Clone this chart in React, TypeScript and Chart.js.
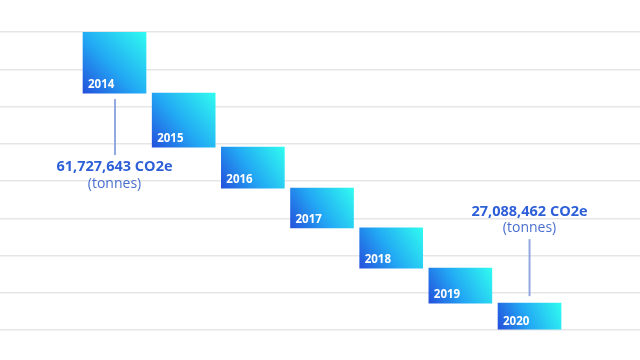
import React, { useEffect, useRef } from "react";
import { Chart, registerables } from "chart.js";

Chart.register(...registerables);

// Categories (years)
const years = ["2014", "2015", "2016", "2017", "2018", "2019", "2020"];
// Floating bar levels in grid units (0 = bottom grid line, 8 = top grid line)
const barTop = [8.0, 6.36, 4.91, 3.81, 2.74, 1.66, 0.72];
const barBottom = [6.36, 4.91, 3.81, 2.74, 1.66, 0.72, 0.0];
// Annotation texts
const startValueLabel = "61,727,643 CO2e";
const endValueLabel = "27,088,462 CO2e";
const unitLabel = "(tonnes)";
// Y grid ticks
const yMin = 0;
const yMax = 8;
const yStep = 1;

export default function App() {
  const ref = useRef<HTMLCanvasElement | null>(null);

  useEffect(() => {
    document.body.style.margin = "0";
    const canvas = ref.current;
    if (!canvas) return;

    const data = years.map((_, i) => ({ x: i, y: [barBottom[i], barTop[i]] }));

    const gradientPlugin = {
      id: "barGradient",
      beforeDatasetsDraw(chart: any) {
        const meta = chart.getDatasetMeta(0);
        const c = chart.ctx;
        meta.data.forEach((el: any) => {
          const half = el.width / 2;
          const top = Math.min(el.y, el.base);
          const bot = Math.max(el.y, el.base);
          if (![el.x, half, top, bot].every((v) => Number.isFinite(v))) return;
          const g = c.createLinearGradient(el.x - half, bot, el.x + half, top);
          g.addColorStop(0, "#2450dc");
          g.addColorStop(0.45, "#22a8f4");
          g.addColorStop(1, "#30fbf0");
          el.options.backgroundColor = g;
        });
      },
    };

    const annotPlugin = {
      id: "annot",
      afterDatasetsDraw(chart: any) {
        const c = chart.ctx;
        const xs = chart.scales.x;
        const ys = chart.scales.y;
        c.save();
        // year labels
        c.fillStyle = "#ffffff";
        c.font = 'bold 11.5px "Open Sans"';
        c.textAlign = "left";
        c.textBaseline = "alphabetic";
        years.forEach((yr, i) => {
          const cx = xs.getPixelForValue(i);
          const bot = ys.getPixelForValue(barBottom[i]);
          c.fillText(yr, cx - 31.5 + 5, bot - 5);
        });

        // first annotation (below 2014)
        const x0 = xs.getPixelForValue(0);
        const b0 = ys.getPixelForValue(barBottom[0]);
        c.strokeStyle = "#94a8e0";
        c.lineWidth = 2;
        c.beginPath();
        c.moveTo(x0 + 0.5, b0 + 6);
        c.lineTo(x0 + 0.5, b0 + 62);
        c.stroke();
        c.textAlign = "center";
        c.textBaseline = "middle";
        c.fillStyle = "#2d5fd8";
        c.font = 'bold 14.5px "Open Sans"';
        c.fillText(startValueLabel, x0, b0 + 74);
        c.fillStyle = "#4a6fcf";
        c.font = '14px "Open Sans"';
        c.fillText(unitLabel, x0, b0 + 91);

        // last annotation (above 2020)
        const n = years.length - 1;
        const xn = xs.getPixelForValue(n);
        const tn = ys.getPixelForValue(barTop[n]);
        c.beginPath();
        c.moveTo(xn, tn - 7);
        c.lineTo(xn, tn - 64);
        c.stroke();
        c.fillStyle = "#2d5fd8";
        c.font = 'bold 14.5px "Open Sans"';
        c.fillText(endValueLabel, xn, tn - 91.5);
        c.fillStyle = "#4a6fcf";
        c.font = '14px "Open Sans"';
        c.fillText(unitLabel, xn, tn - 75);
        c.restore();
      },
    };

    const chart = new Chart(canvas, {
      type: "bar",
      data: {
        datasets: [
          {
            data: data as any,
            backgroundColor: (() => "#22a8f4") as any,
            borderWidth: 0,
            barThickness: 63,
          },
        ],
      },
      options: {
        animation: false,
        responsive: true,
        maintainAspectRatio: false,
        layout: { padding: { top: 32, bottom: 30, left: 0, right: 0 } },
        plugins: { legend: { display: false }, tooltip: { enabled: false } },
        scales: {
          x: {
            type: "linear",
            min: -1.6554,
            max: 7.597,
            offset: false,
            bounds: "ticks",
            display: false,
          },
          y: {
            min: yMin,
            max: yMax,
            ticks: { display: false, stepSize: yStep },
            border: { display: false },
            grid: { color: "#e6e6e6", lineWidth: 1.5, drawTicks: false },
          },
        },
      },
      plugins: [gradientPlugin, annotPlugin],
    });

    return () => chart.destroy();
  }, []);

  return (
    <div style={{ position: "fixed", left: 0, top: 0, width: 640, height: 360, background: "#ffffff" }}>
      <canvas ref={ref} />
    </div>
  );
}
